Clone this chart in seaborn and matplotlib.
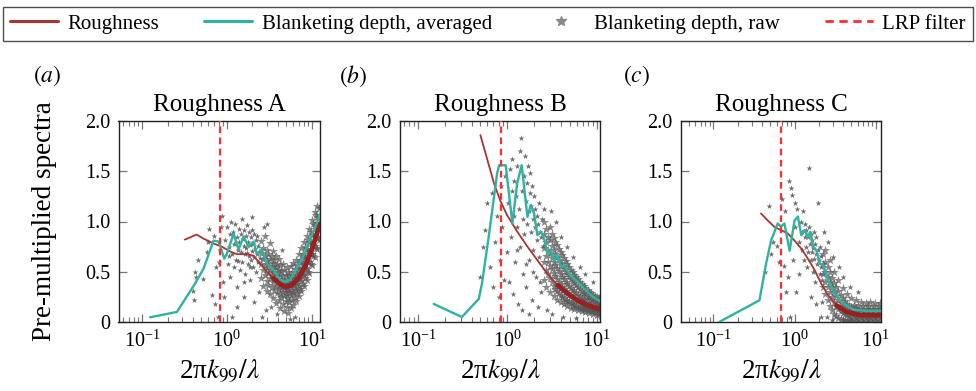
import matplotlib
matplotlib.use('Agg')
import matplotlib.pyplot as plt
from matplotlib.lines import Line2D
import numpy as np
import pandas as pd
import seaborn as sns

# ---- data ----
panel_titles = ['Roughness A', 'Roughness B', 'Roughness C']
panel_tags = ['a', 'b', 'c']
lrp_filter = [0.82, 0.84, 0.68]
x_limits = [(0.053, 12.3), (0.063, 10.9), (0.040, 11.6)]
y_ticks = [0, 0.5, 1.0, 1.5, 2.0]
y_tick_labels = ['0', '0.5', '1.0', '1.5', '2.0']

# roughness spectra
rough_a_x = [0.32, 0.44, 0.53, 0.70, 0.87, 1.10, 1.31, 1.72, 2.05, 2.47, 2.95, 3.53, 4.24, 4.99, 5.80, 6.96, 8.30, 10.0, 12.5]
rough_a_y = [0.82, 0.87, 0.83, 0.78, 0.75, 0.70, 0.675, 0.675, 0.66, 0.58, 0.50, 0.435, 0.375, 0.345, 0.37, 0.435, 0.55, 0.72, 0.98]
rough_b_x = [0.50, 0.60, 0.71, 0.84, 1.00, 1.29, 1.68, 2.17, 2.81, 3.65, 4.72, 6.12, 7.92, 11.2]
rough_b_y = [1.86, 1.61, 1.38, 1.20, 1.06, 0.90, 0.75, 0.615, 0.48, 0.366, 0.283, 0.216, 0.166, 0.124]
rough_c_x = [0.386, 0.467, 0.565, 0.68, 0.83, 1.00, 1.21, 1.46, 1.77, 2.14, 2.59, 3.28, 4.37, 6.39, 11.9]
rough_c_y = [1.08, 1.01, 0.947, 0.914, 0.88, 0.81, 0.73, 0.63, 0.515, 0.38, 0.266, 0.166, 0.10, 0.067, 0.067]

# blanketing depth, averaged
avg_a_x = [0.125, 0.258, 0.424, 0.53, 0.636, 0.695, 0.80, 0.93, 1.0, 1.2, 1.37, 1.57, 1.8, 2.06, 2.25, 2.58, 2.95, 3.53, 4.24, 4.85, 5.55, 6.3, 7.6, 9.1, 11.4, 12.5]
avg_a_y = [0.047, 0.10, 0.385, 0.53, 0.716, 0.81, 0.80, 0.63, 0.68, 0.88, 0.72, 0.85, 0.75, 0.80, 0.68, 0.72, 0.58, 0.52, 0.42, 0.40, 0.42, 0.50, 0.62, 0.78, 0.98, 1.08]
avg_b_x = [0.15, 0.31, 0.48, 0.52, 0.62, 0.71, 0.77, 0.81, 0.96, 1.14, 1.29, 1.45, 1.68, 1.83, 1.99, 2.17, 2.37, 2.58, 2.81, 3.07, 3.34, 3.65, 3.97, 4.33, 4.92, 5.85, 6.96, 8.63, 11.2]
avg_b_y = [0.18, 0.05, 0.23, 0.38, 0.85, 1.245, 1.48, 1.56, 1.56, 0.98, 1.38, 1.56, 1.046, 1.163, 1.08, 0.864, 0.897, 0.83, 0.68, 0.715, 0.615, 0.665, 0.548, 0.565, 0.48, 0.415, 0.35, 0.266, 0.20]
avg_c_x = [0.118, 0.37, 0.446, 0.514, 0.62, 0.68, 0.75, 0.87, 1.0, 1.1, 1.21, 1.33, 1.46, 1.56, 1.69, 1.86, 2.04, 2.24, 2.59, 3.13, 3.97, 5.28, 7.73, 11.9]
avg_c_y = [0.0, 0.216, 0.58, 0.81, 0.98, 0.95, 0.98, 0.71, 1.01, 1.05, 0.864, 0.914, 0.847, 0.897, 0.747, 0.714, 0.58, 0.565, 0.415, 0.283, 0.183, 0.124, 0.11, 0.11]

# blanketing depth, raw (x, spectrum): scattered points
raw_a_sparse = [
    (0.41, 0.22), (0.42, 0.50), (0.43, 0.45), (0.40, 0.31), (0.46, 0.62), (0.53, 0.43), (0.58, 0.70),
    (0.60, 0.80), (0.62, 0.93), (0.66, 0.27), (0.70, 0.86), (0.72, 0.18), (0.75, 0.55), (0.78, 0.05),
    (0.80, 0.60), (0.84, 0.72), (0.85, 0.95), (0.88, 1.05), (0.90, 0.40), (0.93, 0.25),
    (0.95, 0.82), (1.0, 0.95), (1.02, 0.58), (1.05, 0.75), (1.08, 0.88), (1.1, 0.45), (1.12, 1.0),
    (1.15, 0.68), (1.18, 0.90), (1.2, 0.55), (1.22, 0.78), (1.25, 0.98), (1.28, 0.62), (1.3, 0.85),
    (1.32, 0.35), (1.35, 0.72), (1.38, 0.93), (1.4, 0.80), (1.42, 0.52), (1.45, 0.88), (1.48, 0.70),
    (1.5, 1.02), (1.52, 0.60), (1.55, 0.83), (1.58, 0.76), (1.6, 0.92), (1.62, 0.48), (1.65, 0.68),
    (1.68, 0.86), (1.7, 0.74), (1.72, 0.97), (1.75, 0.58), (1.78, 0.80), (1.8, 0.66), (1.83, 0.90),
    (1.85, 0.42), (1.88, 0.77), (1.9, 0.62), (1.93, 0.85), (1.96, 0.71), (2.0, 1.04), (2.02, 0.55),
    (2.05, 0.78), (2.08, 0.88), (2.1, 0.65), (2.15, 0.73), (2.2, 0.82), (2.22, 0.50), (2.25, 0.68),
    (2.3, 0.60), (2.35, 0.76), (2.4, 0.30), (2.45, 0.64), (2.5, 0.72), (1.3, 0.15), (1.6, 0.25),
    (2.1, 0.20), (1.15, 0.05), (2.6, 0.05), (2.7, 0.95), (3.0, 0.98), (3.3, 0.15), (3.9, 0.08),
    (4.4, 0.72), (2.9, 0.12), (5.6, 0.03), (6.4, 0.05), (1.07, 0.66), (1.36, 0.61), (1.74, 0.69),
    (1.97, 0.92), (2.28, 0.86), (1.57, 0.40), (1.86, 0.55),
]
# blanketing depth, raw: the dense band along the curves
raw_a_band = [
    (2.55, 0.44), (2.55, 0.58), (2.55, 0.69), (2.55, 0.81), (2.68, 0.36), (2.68, 0.52), (2.68, 0.63),
    (2.68, 0.74), (2.82, 0.47), (2.82, 0.57), (2.82, 0.66), (2.82, 0.86), (2.95, 0.31), (2.95, 0.41),
    (2.95, 0.54), (2.95, 0.61), (2.95, 0.72), (3.08, 0.37), (3.08, 0.49), (3.08, 0.58), (3.08, 0.68),
    (3.22, 0.28), (3.22, 0.44), (3.22, 0.52), (3.22, 0.63), (3.22, 0.79), (3.35, 0.35), (3.35, 0.47),
    (3.35, 0.56), (3.35, 0.66), (3.5, 0.24), (3.5, 0.40), (3.5, 0.50), (3.5, 0.59), (3.5, 0.71),
    (3.63, 0.32), (3.63, 0.43), (3.63, 0.53), (3.63, 0.62), (3.78, 0.19), (3.78, 0.36), (3.78, 0.46),
    (3.78, 0.55), (3.78, 0.66), (3.92, 0.29), (3.92, 0.40), (3.92, 0.49), (3.92, 0.58), (4.08, 0.22),
    (4.08, 0.33), (4.08, 0.43), (4.08, 0.52), (4.08, 0.63), (4.22, 0.14), (4.22, 0.28), (4.22, 0.38),
    (4.22, 0.47), (4.22, 0.57), (4.38, 0.25), (4.38, 0.34), (4.38, 0.42), (4.38, 0.51), (4.55, 0.18),
    (4.55, 0.30), (4.55, 0.37), (4.55, 0.46), (4.55, 0.58), (4.72, 0.11), (4.72, 0.26), (4.72, 0.34),
    (4.72, 0.41), (4.72, 0.52), (4.9, 0.21), (4.9, 0.30), (4.9, 0.38), (4.9, 0.47), (5.08, 0.15),
    (5.08, 0.27), (5.08, 0.35), (5.08, 0.43), (5.08, 0.55), (5.27, 0.09), (5.27, 0.24), (5.27, 0.32),
    (5.27, 0.40), (5.27, 0.50), (5.45, 0.20), (5.45, 0.30), (5.45, 0.38), (5.45, 0.47), (5.65, 0.14),
    (5.65, 0.27), (5.65, 0.35), (5.65, 0.44), (5.65, 0.56), (5.85, 0.22), (5.85, 0.31), (5.85, 0.40),
    (5.85, 0.50), (6.05, 0.17), (6.05, 0.29), (6.05, 0.37), (6.05, 0.45), (6.05, 0.59), (6.28, 0.25),
    (6.28, 0.34), (6.28, 0.43), (6.28, 0.53), (6.5, 0.21), (6.5, 0.32), (6.5, 0.40), (6.5, 0.49),
    (6.5, 0.62), (6.75, 0.29), (6.75, 0.38), (6.75, 0.47), (6.75, 0.57), (7.0, 0.26), (7.0, 0.36),
    (7.0, 0.45), (7.0, 0.54), (7.0, 0.68), (7.25, 0.33), (7.25, 0.43), (7.25, 0.52), (7.25, 0.62),
    (7.5, 0.31), (7.5, 0.41), (7.5, 0.50), (7.5, 0.60), (7.5, 0.74), (7.8, 0.38), (7.8, 0.48),
    (7.8, 0.58), (7.8, 0.68), (8.1, 0.36), (8.1, 0.47), (8.1, 0.56), (8.1, 0.66), (8.1, 0.80),
    (8.4, 0.44), (8.4, 0.54), (8.4, 0.64), (8.4, 0.75), (8.7, 0.42), (8.7, 0.53), (8.7, 0.63),
    (8.7, 0.73), (8.7, 0.86), (9.0, 0.50), (9.0, 0.61), (9.0, 0.71), (9.0, 0.82), (9.35, 0.49),
    (9.35, 0.60), (9.35, 0.70), (9.35, 0.80), (9.35, 0.93), (9.7, 0.58), (9.7, 0.68), (9.7, 0.79),
    (9.7, 0.90), (10.05, 0.57), (10.05, 0.68), (10.05, 0.78), (10.05, 0.88), (10.05, 1.01),
    (10.4, 0.66), (10.4, 0.77), (10.4, 0.87), (10.4, 0.98), (10.8, 0.65), (10.8, 0.76), (10.8, 0.86),
    (10.8, 0.97), (10.8, 1.09), (11.2, 0.74), (11.2, 0.85), (11.2, 0.95), (11.2, 1.06), (11.6, 0.73),
    (11.6, 0.84), (11.6, 0.94), (11.6, 1.04), (11.6, 1.15), (12.1, 0.82), (12.1, 0.93), (12.1, 1.03),
    (12.1, 1.13),
]
raw_b_sparse = [
    (0.50, 0.45), (0.53, 0.75), (0.57, 0.92), (0.60, 1.18), (0.64, 0.55), (0.68, 1.28), (0.70, 0.35),
    (0.73, 0.80), (0.76, 1.05), (0.80, 0.25), (0.83, 0.62), (0.86, 1.35), (0.88, 0.95), (0.92, 0.42),
    (0.95, 1.45), (0.98, 0.70),
    (1.02, 1.18), (1.05, 0.40), (1.08, 1.52), (1.1, 0.85), (1.13, 1.62), (1.15, 0.28), (1.18, 1.05),
    (1.2, 1.40), (1.22, 0.60), (1.25, 1.25), (1.28, 0.95), (1.3, 1.55), (1.33, 0.18), (1.35, 1.12),
    (1.38, 1.70), (1.4, 0.75), (1.42, 1.83), (1.45, 1.30), (1.48, 0.48), (1.5, 1.02), (1.53, 1.45),
    (1.55, 0.88), (1.58, 1.65), (1.6, 1.20), (1.63, 0.35), (1.65, 1.38), (1.68, 0.98), (1.7, 1.55),
    (1.73, 1.10), (1.75, 0.62), (1.78, 1.28), (1.8, 1.48), (1.83, 0.90), (1.85, 1.15), (1.88, 0.22),
    (1.9, 1.35), (1.93, 1.02), (1.96, 0.72), (2.0, 1.25), (2.03, 0.95), (2.06, 1.12), (2.1, 0.45),
    (2.13, 1.05), (2.16, 0.82), (2.2, 0.98), (2.24, 1.18), (2.28, 0.65), (2.32, 0.90), (2.36, 0.30),
    (2.4, 0.85), (2.45, 1.02), (2.5, 0.76), (1.45, 0.12), (1.75, 0.08), (2.2, 0.15),
    (2.8, 0.12), (3.2, 0.08), (3.5, 1.0), (4.0, 0.85), (4.6, 0.75), (5.5, 0.65), (6.5, 0.55),
    (2.6, 1.12), (3.1, 1.10), (7.5, 0.48), (9.0, 0.40), (4.2, 0.05), (5.8, 0.04), (1.27, 0.72),
    (1.62, 0.58), (1.95, 0.50), (2.3, 0.40), (1.12, 1.30),
]
raw_b_band = [
    (2.55, 0.42), (2.55, 0.60), (2.55, 0.74), (2.55, 0.88), (2.55, 1.0), (2.7, 0.35), (2.7, 0.52),
    (2.7, 0.66), (2.7, 0.80), (2.7, 0.93), (2.85, 0.48), (2.85, 0.60), (2.85, 0.72), (2.85, 0.85),
    (3.0, 0.30), (3.0, 0.44), (3.0, 0.56), (3.0, 0.68), (3.0, 0.82), (3.0, 0.95), (3.15, 0.40),
    (3.15, 0.53), (3.15, 0.64), (3.15, 0.76), (3.15, 0.88), (3.3, 0.26), (3.3, 0.36), (3.3, 0.49),
    (3.3, 0.60), (3.3, 0.72), (3.3, 0.84), (3.45, 0.33), (3.45, 0.46), (3.45, 0.57), (3.45, 0.68),
    (3.45, 0.80), (3.6, 0.22), (3.6, 0.31), (3.6, 0.43), (3.6, 0.54), (3.6, 0.65), (3.6, 0.77),
    (3.78, 0.29), (3.78, 0.40), (3.78, 0.51), (3.78, 0.62), (3.78, 0.73), (3.95, 0.20), (3.95, 0.27),
    (3.95, 0.38), (3.95, 0.48), (3.95, 0.59), (3.95, 0.70), (4.12, 0.25), (4.12, 0.35), (4.12, 0.45),
    (4.12, 0.56), (4.12, 0.67), (4.3, 0.18), (4.3, 0.24), (4.3, 0.33), (4.3, 0.43), (4.3, 0.53),
    (4.3, 0.64), (4.5, 0.22), (4.5, 0.31), (4.5, 0.40), (4.5, 0.50), (4.5, 0.61), (4.7, 0.16),
    (4.7, 0.21), (4.7, 0.29), (4.7, 0.38), (4.7, 0.48), (4.7, 0.58), (4.92, 0.20), (4.92, 0.27),
    (4.92, 0.36), (4.92, 0.45), (4.92, 0.55), (5.15, 0.14), (5.15, 0.19), (5.15, 0.26), (5.15, 0.34),
    (5.15, 0.43), (5.15, 0.52), (5.4, 0.18), (5.4, 0.24), (5.4, 0.32), (5.4, 0.41), (5.4, 0.50),
    (5.65, 0.13), (5.65, 0.17), (5.65, 0.23), (5.65, 0.30), (5.65, 0.39), (5.65, 0.47), (5.9, 0.16),
    (5.9, 0.22), (5.9, 0.29), (5.9, 0.37), (5.9, 0.45), (6.2, 0.12), (6.2, 0.15), (6.2, 0.21),
    (6.2, 0.27), (6.2, 0.35), (6.2, 0.43), (6.5, 0.14), (6.5, 0.19), (6.5, 0.26), (6.5, 0.33),
    (6.5, 0.40), (6.8, 0.11), (6.8, 0.14), (6.8, 0.18), (6.8, 0.24), (6.8, 0.31), (6.8, 0.38),
    (7.15, 0.13), (7.15, 0.17), (7.15, 0.23), (7.15, 0.29), (7.15, 0.36), (7.5, 0.10), (7.5, 0.13),
    (7.5, 0.16), (7.5, 0.22), (7.5, 0.28), (7.5, 0.34), (7.9, 0.12), (7.9, 0.15), (7.9, 0.20),
    (7.9, 0.26), (7.9, 0.32), (8.3, 0.09), (8.3, 0.12), (8.3, 0.15), (8.3, 0.19), (8.3, 0.25),
    (8.3, 0.30), (8.7, 0.11), (8.7, 0.14), (8.7, 0.18), (8.7, 0.23), (8.7, 0.29), (9.15, 0.08),
    (9.15, 0.11), (9.15, 0.14), (9.15, 0.17), (9.15, 0.22), (9.15, 0.27), (9.6, 0.10), (9.6, 0.13),
    (9.6, 0.16), (9.6, 0.21), (9.6, 0.26), (10.1, 0.07), (10.1, 0.10), (10.1, 0.13), (10.1, 0.16),
    (10.1, 0.20), (10.1, 0.25), (10.6, 0.09), (10.6, 0.12), (10.6, 0.15), (10.6, 0.19), (10.6, 0.24),
    (11.1, 0.06), (11.1, 0.09), (11.1, 0.12), (11.1, 0.15), (11.1, 0.18), (11.1, 0.23),
]
raw_c_sparse = [
    (0.43, 0.50), (0.49, 1.15), (0.52, 0.68), (0.55, 0.80), (0.60, 0.76), (0.64, 0.60), (0.70, 1.22),
    (0.74, 0.56), (0.76, 1.10), (0.78, 0.30), (0.82, 0.45), (0.86, 1.40), (0.90, 1.33), (0.93, 1.26),
    (0.96, 0.62), (1.0, 1.18), (1.02, 0.95), (1.05, 0.30), (1.08, 1.12), (1.12, 0.80), (0.88, 0.05),
    (1.15, 0.48),
    (1.2, 1.00), (1.22, 0.72), (1.25, 0.90), (1.28, 1.10), (1.3, 0.62), (1.33, 0.85), (1.35, 0.98),
    (1.38, 0.75), (1.4, 0.92), (1.43, 0.55), (1.45, 0.85), (1.48, 0.70), (1.5, 0.95), (1.52, 1.53),
    (1.55, 0.78), (1.58, 0.62), (1.6, 0.88), (1.63, 0.70), (1.65, 0.82), (1.68, 0.50), (1.7, 0.74),
    (1.73, 0.90), (1.75, 0.63), (1.78, 0.78), (1.8, 0.40), (1.83, 0.68), (1.86, 0.85), (1.9, 0.58),
    (1.93, 0.72), (1.96, 1.18), (2.0, 0.62), (2.03, 0.48), (2.06, 0.75), (2.1, 0.55), (2.14, 0.66),
    (2.18, 0.20), (2.2, 0.42), (1.85, 0.18), (2.1, 0.05), (1.6, 0.25),
    (2.3, 0.90), (2.6, 0.80), (3.0, 0.65), (3.5, 0.55), (4.0, 0.45), (4.8, 0.35), (6.0, 0.30),
    (2.5, 0.05), (2.9, 0.02),
]
raw_c_band = [
    (2.25, 0.35), (2.25, 0.48), (2.25, 0.58), (2.25, 0.68), (2.4, 0.28), (2.4, 0.40), (2.4, 0.50),
    (2.4, 0.60), (2.4, 0.72), (2.55, 0.22), (2.55, 0.35), (2.55, 0.45), (2.55, 0.55), (2.7, 0.16),
    (2.7, 0.30), (2.7, 0.40), (2.7, 0.50), (2.7, 0.62), (2.88, 0.12), (2.88, 0.25), (2.88, 0.35),
    (2.88, 0.44), (3.05, 0.08), (3.05, 0.20), (3.05, 0.30), (3.05, 0.39), (3.05, 0.50), (3.25, 0.06),
    (3.25, 0.16), (3.25, 0.26), (3.25, 0.35), (3.45, 0.04), (3.45, 0.13), (3.45, 0.22), (3.45, 0.31),
    (3.45, 0.42), (3.68, 0.03), (3.68, 0.11), (3.68, 0.19), (3.68, 0.27), (3.9, 0.02), (3.9, 0.09),
    (3.9, 0.16), (3.9, 0.24), (3.9, 0.34), (4.15, 0.02), (4.15, 0.08), (4.15, 0.14), (4.15, 0.21),
    (4.4, 0.01), (4.4, 0.07), (4.4, 0.12), (4.4, 0.18), (4.4, 0.28), (4.7, 0.02), (4.7, 0.06),
    (4.7, 0.11), (4.7, 0.16), (5.0, 0.01), (5.0, 0.05), (5.0, 0.10), (5.0, 0.15), (5.0, 0.24),
    (5.35, 0.03), (5.35, 0.07), (5.35, 0.12), (5.35, 0.17), (5.7, 0.01), (5.7, 0.05), (5.7, 0.09),
    (5.7, 0.14), (5.7, 0.22), (6.1, 0.03), (6.1, 0.07), (6.1, 0.11), (6.1, 0.16), (6.5, 0.01),
    (6.5, 0.05), (6.5, 0.09), (6.5, 0.13), (6.5, 0.20), (7.0, 0.03), (7.0, 0.07), (7.0, 0.11),
    (7.0, 0.16), (7.5, 0.01), (7.5, 0.05), (7.5, 0.09), (7.5, 0.13), (7.5, 0.19), (8.0, 0.03),
    (8.0, 0.07), (8.0, 0.11), (8.0, 0.16), (8.6, 0.01), (8.6, 0.05), (8.6, 0.09), (8.6, 0.13),
    (8.6, 0.20), (9.2, 0.03), (9.2, 0.07), (9.2, 0.11), (9.2, 0.16), (9.9, 0.01), (9.9, 0.05),
    (9.9, 0.09), (9.9, 0.13), (9.9, 0.19), (10.6, 0.03), (10.6, 0.07), (10.6, 0.11), (10.6, 0.16),
    (11.3, 0.01), (11.3, 0.05), (11.3, 0.09), (11.3, 0.13), (11.3, 0.19),
]
# where the roughness curve turns into the thick, densely sampled part
rough_dense_from = [3.0, 3.5, 2.6]

# ---- styling ----
sns.set_theme(style='ticks')
plt.rcParams['font.family'] = ['Liberation Serif', 'DejaVu Serif']
plt.rcParams['mathtext.fontset'] = 'stix'
plt.rcParams['text.color'] = 'black'
plt.rcParams['axes.labelcolor'] = 'black'
plt.rcParams['xtick.labelcolor'] = 'black'
plt.rcParams['ytick.labelcolor'] = 'black'

c_rough = '#a93434'
c_rough_dense = '#9a1f1f'
c_avg = '#2fb39f'
c_raw = '#555555'
c_lrp = '#ff2d2d'

fig = plt.figure(figsize=(9.76, 3.91), dpi=100)
ax_rects = [
    [118.5 / 976, 1 - 322 / 391, 201 / 976, 201 / 391],
    [400 / 976, 1 - 322 / 391, 200 / 976, 201 / 391],
    [681 / 976, 1 - 322 / 391, 200 / 976, 201 / 391],
]
tag_x = [0.034, 0.347, 0.638]

rough_x = [rough_a_x, rough_b_x, rough_c_x]
rough_y = [rough_a_y, rough_b_y, rough_c_y]
avg_x = [avg_a_x, avg_b_x, avg_c_x]
avg_y = [avg_a_y, avg_b_y, avg_c_y]
raw_sparse = [raw_a_sparse, raw_b_sparse, raw_c_sparse]
raw_band = [raw_a_band, raw_b_band, raw_c_band]

for i in range(3):
    ax = fig.add_axes(ax_rects[i])
    ax.set_xscale('log')

    band_df = pd.DataFrame(raw_band[i], columns=['k', 'spec'])
    sns.scatterplot(data=band_df, x='k', y='spec', ax=ax, marker='*', s=46,
                    color=c_raw, alpha=0.7, linewidth=0, zorder=2, legend=False)
    sparse_df = pd.DataFrame(raw_sparse[i], columns=['k', 'spec'])
    sns.scatterplot(data=sparse_df, x='k', y='spec', ax=ax, marker='*', s=20,
                    color=c_raw, alpha=0.85, linewidth=0, zorder=2, legend=False)

    rdf = pd.DataFrame({'k': rough_x[i], 'spec': rough_y[i]})
    sns.lineplot(data=rdf, x='k', y='spec', ax=ax, color=c_rough, lw=1.3,
                 sort=False, estimator=None, zorder=3)
    dense = rdf[rdf['k'] >= rough_dense_from[i]]
    sns.lineplot(data=dense, x='k', y='spec', ax=ax, color=c_rough_dense, lw=3.4,
                 sort=False, estimator=None, zorder=3)

    adf = pd.DataFrame({'k': avg_x[i], 'spec': avg_y[i]})
    sns.lineplot(data=adf, x='k', y='spec', ax=ax, color=c_avg, lw=1.7,
                 sort=False, estimator=None, zorder=4)

    ax.axvline(lrp_filter[i], color=c_lrp, ls=(0, (3, 2)), lw=1.6, zorder=5)

    ax.set_xlim(*x_limits[i])
    ax.set_ylim(0, 2.0)
    ax.set_yticks(y_ticks)
    ax.set_yticklabels(y_tick_labels)
    ax.minorticks_on()
    ax.yaxis.set_minor_locator(matplotlib.ticker.NullLocator())
    ax.tick_params(which='both', direction='in', top=True, right=True,
                   color='#777777', labelsize=14.5, pad=6)
    ax.tick_params(which='major', length=6, width=0.9)
    ax.tick_params(which='minor', length=3.5, width=0.8)
    for sp in ax.spines.values():
        sp.set_color('#222222')
        sp.set_linewidth(1.0)

    ax.set_title(panel_titles[i], fontsize=18, pad=7)
    ax.set_xlabel('2π$k_{99}/\\lambda$', fontsize=19.5, labelpad=4)
    if i == 0:
        ax.set_ylabel('Pre-multiplied spectra', fontsize=19.5, labelpad=20)
    else:
        ax.set_ylabel('')
    fig.text(tag_x[i], 0.805, '$(\\mathit{%s})$' % panel_tags[i], fontsize=17,
             ha='left', va='center')

handles = [
    Line2D([], [], color=c_rough, lw=2.2),
    Line2D([], [], color=c_avg, lw=2.2),
    Line2D([], [], color='#8a8a8a', marker='*', ls='none', markersize=7),
    Line2D([], [], color=c_lrp, lw=2.0, ls=(0, (3, 2))),
]
labels = ['Roughness', 'Blanketing depth, averaged', 'Blanketing depth, raw', 'LRP filter']
leg = fig.legend(handles, labels, loc='center', ncol=4, mode='expand',
                 bbox_to_anchor=(0.003, 0.885, 0.994, 0.108), fontsize=15,
                 frameon=True, fancybox=False, edgecolor='#222222',
                 handlelength=2.3, handletextpad=0.45, borderaxespad=0, borderpad=0.35)
leg.get_frame().set_linewidth(1.0)

fig.savefig('out.png', dpi=100)
